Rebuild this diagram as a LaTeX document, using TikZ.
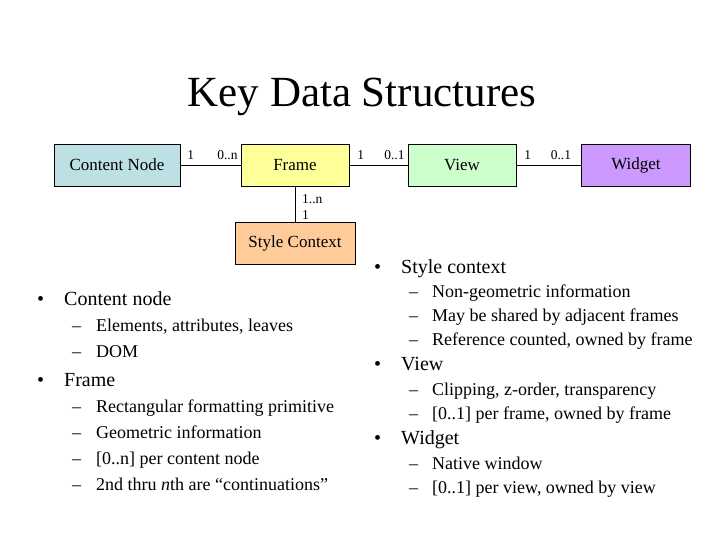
\documentclass[tikz,border=0pt]{standalone}
\usepackage{fontspec}
\setmainfont{Liberation Serif}
\usepackage{xcolor}
\usetikzlibrary{positioning}
\definecolor{ContentBlue}{HTML}{BDE0E4}
\definecolor{FrameYellow}{HTML}{FFFF99}
\definecolor{StyleOrange}{HTML}{FFCC99}
\definecolor{ViewGreen}{HTML}{CCFFCC}
\definecolor{WidgetPurple}{HTML}{CC99FF}

\begin{document}
\begin{tikzpicture}[x=1pt,y=-1pt,
		entity/.style={draw=black,minimum height=42pt,inner sep=0pt,font=\fontsize{17}{20}\selectfont},
		mult/.style={inner sep=0pt,font=\fontsize{13.5}{16}\selectfont},
		head/.style={anchor=base west,inner sep=0pt,font=\fontsize{20}{24}\selectfont},
		sub/.style={anchor=base west,inner sep=0pt,font=\fontsize{18}{22}\selectfont}]
		\useasboundingbox[fill=white] (0,0) rectangle (720,540);
		\node[anchor=base,inner sep=0pt,font=\fontsize{43}{50}\selectfont] (title) at (362,107) {Key Data Structures};
		% entities
		\node[entity,fill=ContentBlue,minimum width=126pt] (content) at (117,165) {Content Node};
		\node[entity,fill=FrameYellow,minimum width=108pt] (frame) at (295,165) {Frame};
		\node[entity,fill=StyleOrange,minimum width=120pt] (style) at (295,243) {Style Context};
		\node[entity,fill=ViewGreen,minimum width=108pt] (view) at (462,165) {View};
		\node[entity,fill=WidgetPurple,minimum width=109pt] (widget) at (636,165) {Widget};
		% associations
		\draw (content) -- (frame);
		\draw (frame) -- (view);
		\draw (view) -- (widget);
		\draw (frame) -- (style);
		\node[mult,anchor=base west] (m1) at ([xshift=7pt,yshift=5pt]content.east) {1};
		\node[mult,anchor=base east] (m2) at ([xshift=-3pt,yshift=5pt]frame.west) {0..n};
		\node[mult,anchor=base west] (m3) at ([xshift=8pt,yshift=5pt]frame.east) {1};
		\node[mult,anchor=base east] (m4) at ([xshift=-3pt,yshift=5pt]view.west) {0..1};
		\node[mult,anchor=base west] (m5) at ([xshift=8pt,yshift=5pt]view.east) {1};
		\node[mult,anchor=base east] (m6) at ([xshift=-10pt,yshift=5pt]widget.west) {0..1};
		\node[mult,anchor=base west] (m7) at ([xshift=7pt,yshift=-17pt]frame.south) {1..n};
		\node[mult,anchor=base west] (m8) at ([xshift=7pt,yshift=2pt]style.north) {1};
		% left list
		\node[head] (l1) at (37,305) {\makebox[27pt][l]{•}Content node};
		\node[sub] (l2) at (72,331) {\makebox[24pt][l]{–}Elements, attributes, leaves};
		\node[sub] (l3) at (72,357) {\makebox[24pt][l]{–}DOM};
		\node[head] (l4) at (37,386) {\makebox[27pt][l]{•}Frame};
		\node[sub] (l5) at (72,412) {\makebox[24pt][l]{–}Rectangular formatting primitive};
		\node[sub] (l6) at (72,438) {\makebox[24pt][l]{–}Geometric information};
		\node[sub] (l7) at (72,464) {\makebox[24pt][l]{–}[0..n] per content node};
		\node[sub] (l8) at (72,490) {\makebox[24pt][l]{–}2nd thru \textit{n}th are “continuations”};
		% right list
		\node[head] (r1) at (374,273) {\makebox[27pt][l]{•}Style context};
		\node[sub] (r2) at (409,297) {\makebox[23pt][l]{–}Non-geometric information};
		\node[sub] (r3) at (409,321) {\makebox[23pt][l]{–}May be shared by adjacent frames};
		\node[sub] (r4) at (409,345) {\makebox[23pt][l]{–}Reference counted, owned by frame};
		\node[head] (r5) at (374,370) {\makebox[27pt][l]{•}View};
		\node[sub] (r6) at (409,395) {\makebox[23pt][l]{–}Clipping, z-order, transparency};
		\node[sub] (r7) at (409,419) {\makebox[23pt][l]{–}[0..1] per frame, owned by frame};
		\node[head] (r8) at (374,444) {\makebox[27pt][l]{•}Widget};
		\node[sub] (r9) at (409,469) {\makebox[23pt][l]{–}Native window};
		\node[sub] (r10) at (409,493) {\makebox[23pt][l]{–}[0..1] per view, owned by view};
	\end{tikzpicture}
\end{document}
